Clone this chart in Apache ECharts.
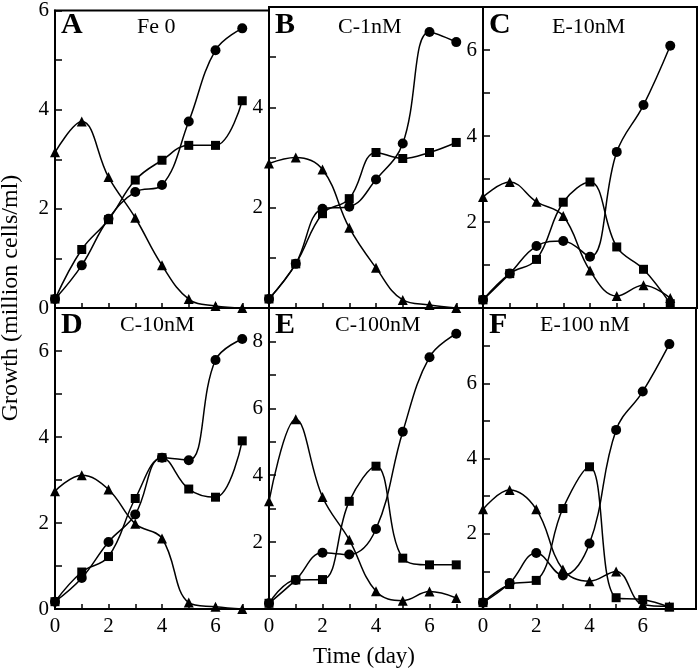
<!DOCTYPE html>
<html>
<head>
<meta charset="utf-8">
<script src="https://cdn.jsdelivr.net/npm/echarts@6/dist/echarts.min.js"></script>
<style>
html, body { margin: 0; padding: 0; background: #fff; }
#chart { width: 699px; height: 671px; }
</style>
</head>
<body>
<div id="chart"></div>
<script>
// days 0..7
var days = [0, 1, 2, 3, 4, 5, 6, 7]

var panelLetters = ['A', 'B', 'C', 'D', 'E', 'F']
var panelNames = ['Fe 0', 'C-1nM', 'E-10nM', 'C-10nM', 'C-100nM', 'E-100 nM']
var yMax = [6, 6, 7, 7, 9, 8]
// which y tick labels are printed on each panel
var yLabels = [[0, 2, 4, 6], [2, 4], [2, 4, 6], [0, 2, 4, 6], [2, 4, 6, 8], [2, 4, 6]]
var xLabels = [0, 2, 4, 6]

// circles
var circleA = [0.18, 0.86, 1.80, 2.34, 2.48, 3.76, 5.20, 5.64]
var circleB = [0.18, 0.88, 1.98, 2.02, 2.56, 3.28, 5.50, 5.30]
var circleC = [0.19, 0.80, 1.44, 1.56, 1.19, 3.63, 4.72, 6.10]
var circleD = [0.17, 0.72, 1.56, 2.20, 3.52, 3.46, 5.79, 6.28]
var circleE = [0.17, 0.87, 1.68, 1.63, 2.39, 5.30, 7.53, 8.23]
var circleF = [0.17, 0.69, 1.49, 0.89, 1.74, 4.76, 5.78, 7.04]
// squares
var squareA = [0.18, 1.18, 1.78, 2.58, 2.98, 3.28, 3.28, 4.18]
var squareB = [0.18, 0.88, 1.88, 2.18, 3.10, 2.98, 3.10, 3.30]
var squareC = [0.19, 0.80, 1.13, 2.46, 2.93, 1.42, 0.90, 0.10]
var squareD = [0.17, 0.86, 1.22, 2.57, 3.52, 2.79, 2.60, 3.91]
var squareE = [0.17, 0.87, 0.88, 3.22, 4.27, 1.52, 1.32, 1.32]
var squareF = [0.17, 0.65, 0.76, 2.67, 3.78, 0.30, 0.25, 0.05]
// triangles
var triA = [3.14, 3.76, 2.64, 1.82, 0.86, 0.18, 0.04, 0.00]
var triB = [2.88, 3.00, 2.76, 1.60, 0.80, 0.16, 0.06, 0.00]
var triC = [2.58, 2.93, 2.47, 2.14, 0.87, 0.28, 0.53, 0.23]
var triD = [2.74, 3.11, 2.78, 1.98, 1.64, 0.15, 0.05, 0.00]
var triE = [3.22, 5.67, 3.35, 2.07, 0.53, 0.25, 0.52, 0.33]
var triF = [2.65, 3.16, 2.65, 1.05, 0.74, 1.00, 0.12, 0.07]

var circles = [circleA, circleB, circleC, circleD, circleE, circleF]
var squares = [squareA, squareB, squareC, squareD, squareE, squareF]
var triangles = [triA, triB, triC, triD, triE, triF]

var FONT = 'Liberation Serif'
var colLeft = [55, 269, 483]
var colWidth = [214, 214, 214]
var rowTop = [7, 308]
var rowHeight = 301
var nameOffset = [82, 69, 69, 65, 66, 57]

function pairs (vals) {
    return days.map(function (d, i) { return [d, vals[i]] })
}

var grids = [], xAxes = [], yAxes = [], series = [], graphics = []

for (var i = 0; i < 6; i++) {
    var col = i % 3, row = Math.floor(i / 3)
    var g = { left: colLeft[col], top: rowTop[row], width: colWidth[col], height: rowHeight }
    grids.push({
        left: g.left, top: g.top, width: g.width, height: g.height,
        show: true, borderColor: '#000', borderWidth: 2, backgroundColor: 'transparent'
    })
    xAxes.push({
        type: 'value', gridIndex: i, min: 0, max: 8, interval: 1,
        axisLine: { show: true, lineStyle: { color: '#000', width: 2 } },
        axisTick: { show: true, inside: true, length: 5, lineStyle: { color: '#000', width: 1.5 } },
        axisLabel: {
            show: row === 1, margin: 7, color: '#000', fontFamily: FONT, fontSize: 21,
            formatter: function (v) { return xLabels.indexOf(v) >= 0 ? String(v) : '' }
        },
        splitLine: { show: false }
    })
    ;(function (labels) {
        yAxes.push({
            type: 'value', gridIndex: i, min: 0, max: yMax[i], interval: 1,
            axisLine: { show: true, lineStyle: { color: '#000', width: 2 } },
            axisTick: { show: true, inside: true, length: 7, lineStyle: { color: '#000', width: 1.5 } },
            axisLabel: {
                margin: 6, color: '#000', fontFamily: FONT, fontSize: 21,
                showMinLabel: true, showMaxLabel: true,
                formatter: function (v) { return labels.indexOf(v) >= 0 ? String(v) : '' }
            },
            splitLine: { show: false }
        })
    })(yLabels[i])

    var sets = [[circles[i], 'circle', 10], [squares[i], 'rect', 9], [triangles[i], 'triangle', 10]]
    sets.forEach(function (s) {
        series.push({
            type: 'line', xAxisIndex: i, yAxisIndex: i,
            data: pairs(s[0]),
            smooth: 0.4,
            symbol: s[1], symbolSize: s[2], showSymbol: true,
            itemStyle: { color: '#000' },
            lineStyle: { color: '#000', width: 1.5 },
            animation: false
        })
    })

    graphics.push({
        type: 'text', left: g.left + 6, top: g.top + (row === 0 ? 3 : 2),
        style: { text: panelLetters[i], font: 'bold 30px "' + FONT + '"', fill: '#000' }
    })
    graphics.push({
        type: 'text', left: g.left + nameOffset[i], top: g.top + (row === 0 ? 9 : 6),
        style: { text: panelNames[i], font: '22px "' + FONT + '"', fill: '#000' }
    })
}

graphics.push({
    type: 'text', x: 11, y: 298, rotation: Math.PI / 2,
    style: { text: 'Growth (million cells/ml)', font: '24px "' + FONT + '"', fill: '#000', align: 'center', verticalAlign: 'middle' }
})
graphics.push({
    type: 'text', x: 364, y: 657,
    style: { text: 'Time (day)', font: '23px "' + FONT + '"', fill: '#000', align: 'center', verticalAlign: 'middle' }
})

var chart = echarts.init(document.getElementById('chart'))
chart.setOption({
    animation: false,
    backgroundColor: '#fff',
    grid: grids,
    xAxis: xAxes,
    yAxis: yAxes,
    series: series,
    graphic: graphics
})
</script>
</body>
</html>
